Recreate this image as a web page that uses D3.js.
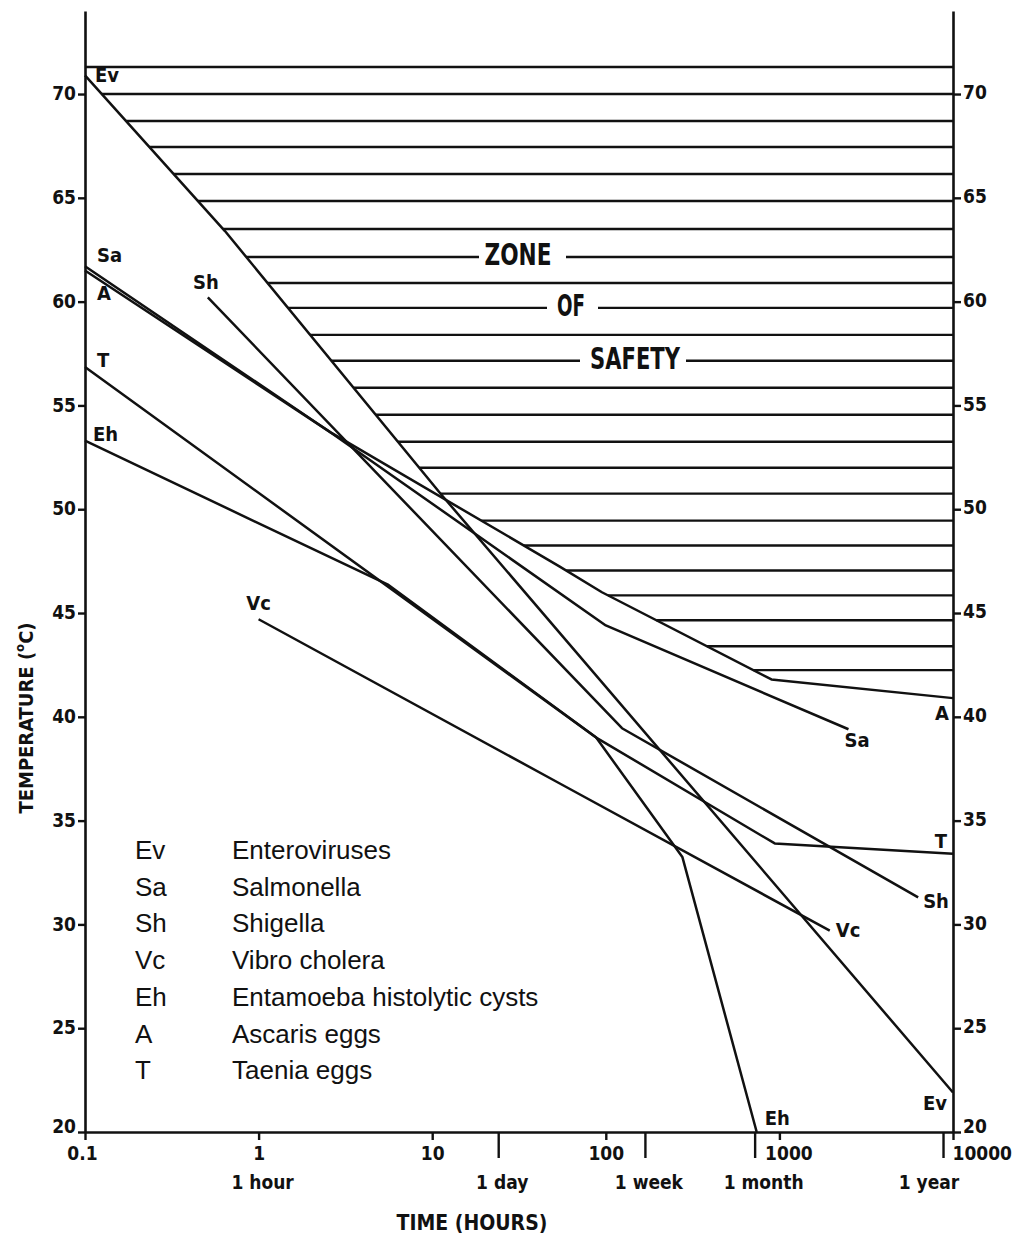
<!DOCTYPE html>
<html>
<head>
<meta charset="utf-8">
<script src="https://cdn.jsdelivr.net/npm/d3@7"></script>
<style>
  body { margin: 0; background: #fff; }
  .chart text { font-family: "DejaVu Sans Condensed", "DejaVu Sans", sans-serif; font-stretch: condensed; font-weight: bold; fill: #111; }
  .chart .legend text { font-family: "Liberation Sans", Arial, sans-serif; font-weight: normal; font-stretch: normal; }
</style>
</head>
<body>
<svg class="chart" id="chart" width="1014" height="1236"></svg>
<script>

// ---- data: [time in hours, temperature in °C] ----
const curveCodes = ["Ev", "Sa", "Sh", "Vc", "Eh", "A", "T"];
const curveNames = ["Enteroviruses", "Salmonella", "Shigella", "Vibro cholera",
                    "Entamoeba histolytic cysts", "Ascaris eggs", "Taenia eggs"];

const evPoints = [[0.1, 70.9], [0.64, 63.4], [11.3, 50.7], [10000, 21.9]];
const saPoints = [[0.1, 61.7], [2.6, 53.7], [100, 44.4], [2500, 39.4]];
const shPoints = [[0.51, 60.2], [124, 39.45], [6300, 31.3]];
const vcPoints = [[1.0, 44.7], [54, 36.8], [1950, 29.7]];
const ehPoints = [[0.1, 53.3], [5.6, 46.35], [88, 39.0], [276, 33.25], [740, 20.0]];
const aPoints  = [[0.1, 61.5], [2.6, 53.7], [54, 47.25], [95, 46.0], [900, 41.8], [10000, 40.9]];
const tPoints  = [[0.1, 56.85], [88, 39.0], [940, 33.9], [10000, 33.4]];

const curvePoints = [evPoints, saPoints, shPoints, vcPoints, ehPoints, aPoints, tPoints];

// hatch lines of the "zone of safety" (temperature of each line)
const hatchTemps = [71.3, 70.0, 68.7, 67.45, 66.15, 64.85, 63.5, 62.15, 60.9, 59.7,
                    58.4, 57.15, 55.85, 54.55, 53.25, 52.0, 50.75, 49.45, 48.25,
                    47.05, 45.85, 44.65, 43.4, 42.25];
const zoneWords = ["ZONE", "OF", "SAFETY"];

// axes
const tempTicks = [20, 25, 30, 35, 40, 45, 50, 55, 60, 65, 70];
const hourTicks = [0.1, 1, 10, 100, 1000, 10000];
const hourTickLabels = ["0.1", "1", "10", "100", "1000", "10000"];
const periodHours = [1, 24, 168, 720, 8760];
const periodLabels = ["1 hour", "1 day", "1 week", "1 month", "1 year"];

// ---- scales ----
const svg = d3.select("#chart");
const ink = "#111";

const x = d3.scaleLog().domain([0.1, 10000]).range([85, 953]);
const y = d3.scaleLinear().domain([20, 74]).range([1132, 11]);

// ---- hatching: each line runs from the right-most curve to the right axis ----
function crossTime(pts, temp) {
  for (let i = 0; i < pts.length - 1; i++) {
    const [t0, v0] = pts[i], [t1, v1] = pts[i + 1];
    if (v0 !== v1 && (v0 - temp) * (v1 - temp) <= 0) {
      const f = (temp - v0) / (v1 - v0);
      return Math.pow(10, Math.log10(t0) + f * (Math.log10(t1) - Math.log10(t0)));
    }
  }
  return null;
}

// where the words sit: row index, gap in px, text width
const wordLayout = {
  ZONE:   { row: 7,  gap: [479, 566], cx: 518, w: 67 },
  OF:     { row: 9,  gap: [547, 598], cx: 571, w: 28 },
  SAFETY: { row: 11, gap: [580, 686], cx: 635, w: 90 }
};

const hatch = svg.append("g").attr("stroke", ink).attr("stroke-width", 2.4);
hatchTemps.forEach((temp, i) => {
  const times = curvePoints.map(p => crossTime(p, temp)).filter(t => t !== null);
  const x0 = x(times.length ? d3.max(times) : 0.1);
  const x1 = x(10000);
  const yy = y(temp);
  const word = zoneWords.find(w => wordLayout[w].row === i);
  const segs = word ? [[x0, wordLayout[word].gap[0]], [wordLayout[word].gap[1], x1]] : [[x0, x1]];
  segs.forEach(s => hatch.append("line")
    .attr("x1", s[0]).attr("x2", s[1]).attr("y1", yy).attr("y2", yy));
});

zoneWords.forEach(w => {
  const L = wordLayout[w];
  svg.append("text")
    .attr("x", L.cx).attr("y", y(hatchTemps[L.row]) + 8)
    .attr("text-anchor", "middle")
    .attr("font-size", 31)
    .attr("textLength", L.w).attr("lengthAdjust", "spacingAndGlyphs")
    .text(w);
});

// ---- curves ----
const line = d3.line().x(d => x(d[0])).y(d => y(d[1]));

svg.append("g").selectAll("path")
  .data(curvePoints)
  .join("path")
  .attr("d", d => line(d))
  .attr("fill", "none")
  .attr("stroke", ink)
  .attr("stroke-width", 2.5)
  .attr("stroke-linejoin", "round");

// curve labels: [dx, dy, anchor] relative to first / last point
const startLab = {
  Ev: [10, 7, "start"], Sa: [12, -4, "start"], A: [12, 30, "start"], T: [12, 0, "start"],
  Eh: [8, 0, "start"], Sh: [-2, -8, "middle"], Vc: [0, -9, "middle"]
};
const endLab = {
  Sa: [-4, 18, "start"], A: [-4, 22, "end"], T: [-6, -6, "end"], Sh: [5, 11, "start"],
  Vc: [6, 6, "start"], Ev: [-6, 17, "end"], Eh: [8, -7, "start"]
};

const labG = svg.append("g").attr("font-size", 20);
curveCodes.forEach((c, i) => {
  const pts = curvePoints[i];
  const a = pts[0], b = pts[pts.length - 1];
  const s = startLab[c], e = endLab[c];
  labG.append("text").attr("x", x(a[0]) + s[0]).attr("y", y(a[1]) + s[1])
    .attr("text-anchor", s[2]).text(c);
  labG.append("text").attr("x", x(b[0]) + e[0]).attr("y", y(b[1]) + e[1])
    .attr("text-anchor", e[2]).text(c);
});

// ---- axes ----
function styleAxis(g) {
  g.select(".domain").attr("stroke", ink).attr("stroke-width", 2.6);
  g.selectAll(".tick line").attr("stroke", ink).attr("stroke-width", 2.4);
  g.selectAll(".tick text").attr("font-size", 19).attr("fill", ink)
    .attr("font-family", null);
  g.attr("font-family", null);
}

svg.append("g")
  .attr("transform", `translate(${x(0.1)},0)`)
  .call(d3.axisLeft(y).tickValues(tempTicks).tickSize(7).tickPadding(2).tickSizeOuter(0))
  .call(styleAxis)
  .call(g => g.selectAll(".tick text").attr("dy", d => d === 20 ? "0.05em" : "0.3em"));

svg.append("g")
  .attr("transform", `translate(${x(10000)},0)`)
  .call(d3.axisRight(y).tickValues(tempTicks).tickSize(8).tickPadding(2).tickSizeOuter(0))
  .call(styleAxis)
  .call(g => g.selectAll(".tick text").attr("dy", d => d === 20 ? "0.0em" : "0.25em"));

const xAxis = svg.append("g")
  .attr("transform", `translate(0,${y(20)})`)
  .call(d3.axisBottom(x).tickValues(hourTicks)
    .tickFormat((d, i) => hourTickLabels[i]).tickSize(8).tickPadding(7).tickSizeOuter(0))
  .call(styleAxis);
xAxis.selectAll(".tick text")
  .attr("text-anchor", d => d === 10000 ? "start" : "middle")
  .attr("dx", d => d === 1000 ? 9 : (d === 10000 ? -1 : (d === 0.1 ? -3 : 0)));

// period ticks (day, week, month, year) are longer
svg.append("g")
  .attr("transform", `translate(0,${y(20)})`)
  .call(d3.axisBottom(x).tickValues(periodHours.slice(1)).tickFormat("").tickSize(26).tickSizeOuter(0))
  .call(styleAxis)
  .call(g => g.select(".domain").remove());

svg.append("g").attr("font-size", 19)
  .selectAll("text")
  .data(periodHours)
  .join("text")
  .attr("x", (d, i) => x(d) + (i === 4 ? -14 : (i === 3 ? 9 : 4)))
  .attr("y", y(20) + 57)
  .attr("text-anchor", "middle")
  .text((d, i) => periodLabels[i]);

// axis titles
svg.append("text")
  .attr("x", 472).attr("y", 1230)
  .attr("text-anchor", "middle")
  .attr("font-size", 21)
  .text("TIME (HOURS)");

const yTitle = svg.append("text")
  .attr("transform", "translate(33,718) rotate(-90)")
  .attr("text-anchor", "middle")
  .attr("font-size", 20);
yTitle.append("tspan").text("TEMPERATURE (");
yTitle.append("tspan").attr("font-size", 13).attr("dy", -9).text("o");
yTitle.append("tspan").attr("dy", 9).text("C)");

// ---- legend ----
const legend = svg.append("g").attr("class", "legend").attr("font-size", 26);
curveCodes.forEach((c, i) => {
  const by = 859 + i * 36.7;
  legend.append("text").attr("x", 135).attr("y", by).attr("fill", "#000").text(c);
  legend.append("text").attr("x", 232).attr("y", by).attr("fill", "#000").text(curveNames[i]);
});

</script>
</body>
</html>
